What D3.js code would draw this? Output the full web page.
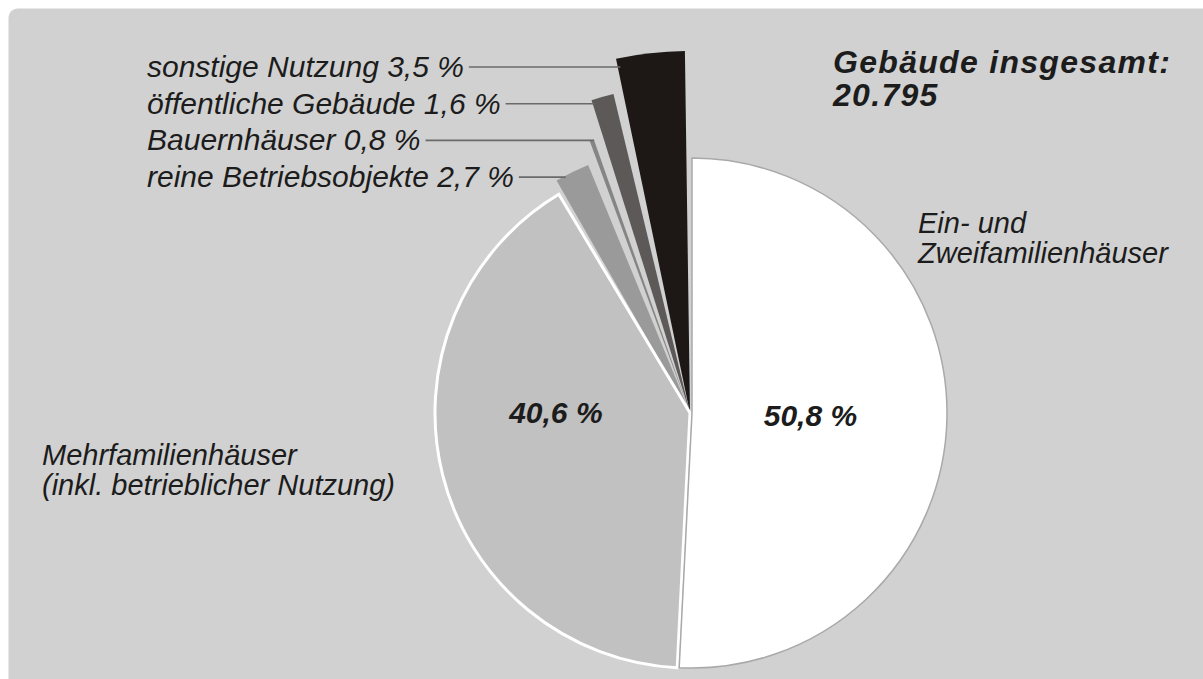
<!DOCTYPE html>
<html><head><meta charset="utf-8">
<script src="https://cdn.jsdelivr.net/npm/d3@7"></script>
<style>html,body{margin:0;padding:0;background:#fff;} svg{display:block;}</style>
</head><body>
<svg id="chart" width="1203" height="679"></svg>
<script>
// ---- data ----
const categories = ["Ein- und Zweifamilienhäuser", "Mehrfamilienhäuser (inkl. betrieblicher Nutzung)", "reine Betriebsobjekte", "Bauernhäuser", "öffentliche Gebäude", "sonstige Nutzung"];
const shares = [50.8, 40.6, 2.7, 0.8, 1.6, 3.5];
const shareLabels = ["50,8 %", "40,6 %", "2,7 %", "0,8 %", "1,6 %", "3,5 %"];
const bigLabelLines = [["Ein- und", "Zweifamilienhäuser"], ["Mehrfamilienhäuser", "(inkl. betrieblicher Nutzung)"]];
const titleLines = ["Gebäude insgesamt:", "20.795"];

// ---- style / layout ----
const W = 1203, H = 679;
const cx = 690, cy = 413, R = 255;
const outerR = [255, 255, 268, 290, 328, 362];
const fills = ["#ffffff", "#c1c1c1", "#9a9a9a", "#858585", "#5d5959", "#1d1816"];
const bg = "#d1d1d1";
const ink = "#1c1c1c";
const font = "'Liberation Sans', Arial, Helvetica, sans-serif";

const svg = d3.select("#chart");
svg.append("rect").attr("x", 8.5).attr("y", 8.5).attr("width", W + 20).attr("height", H + 20)
  .attr("rx", 9).attr("fill", bg);

const pie = d3.pie().sort(null).value(d => d).startAngle(0).endAngle(2 * Math.PI);
const arcs = pie(shares);
const g = svg.append("g").attr("transform", `translate(${cx},${cy})`);

const padA = 0.04;
const arcFor = i => d3.arc().innerRadius(0).outerRadius(outerR[i]);
const smallArc = i => d3.arc().innerRadius(0).outerRadius(outerR[i]).padAngle(padA).padRadius(R);

// small slices
arcs.forEach((a, i) => {
  if (i < 2) return;
  g.append("path").attr("d", smallArc(i)(a)).attr("fill", fills[i]);
});
// Mehrfamilienhäuser
g.append("path").attr("d", arcFor(1)(arcs[1])).attr("fill", fills[1])
  .attr("stroke", "#ffffff").attr("stroke-width", 3).attr("stroke-linejoin", "miter");
// Ein- und Zweifamilienhäuser
g.append("path").attr("transform", "translate(2,0)").attr("d", arcFor(0)(arcs[0])).attr("fill", fills[0])
  .attr("stroke", "#a9a9a9").attr("stroke-width", 1.5);

// percentage labels inside big slices
const inner = [
  d3.arc().innerRadius(R * 0.5).outerRadius(R * 0.5).centroid(arcs[0]),
  d3.arc().innerRadius(R * 0.53).outerRadius(R * 0.53).centroid({startAngle: 1.5 * Math.PI, endAngle: 1.5 * Math.PI})
];
inner.forEach((p, i) => {
  g.append("text").attr("x", p[0] - (i === 0 ? 7 : -1)).attr("y", p[1] + 10)
    .attr("text-anchor", "middle").attr("font-family", font).attr("font-style", "italic")
    .attr("font-weight", "bold").attr("font-size", 30).attr("fill", ink).text(shareLabels[i]);
});

// big labels
const bigPos = [[918, 233, 30, 29], [42, 464.5, 30, 29]];
bigLabelLines.forEach((lines, i) => {
  const t = svg.append("text").attr("font-family", font).attr("font-style", "italic")
    .attr("font-size", bigPos[i][3]).attr("fill", ink);
  lines.forEach((l, j) => t.append("tspan").attr("x", bigPos[i][0]).attr("y", bigPos[i][1] + j * bigPos[i][2]).text(l));
});

// small labels with leader lines (top to bottom: sonstige, öffentliche, Bauern, reine)
const smallIdx = [5, 4, 3, 2];
smallIdx.forEach((i, k) => {
  const y = 77 + k * 36.7;
  const t = svg.append("text").attr("x", 147).attr("y", y).attr("font-family", font)
    .attr("font-style", "italic").attr("font-size", 30).attr("fill", ink)
    .text(categories[i] + " " + shareLabels[i]);
  const x0 = 147 + t.node().getComputedTextLength() + 5;
  const ly = y - 10;
  const off = padA * R / 2;
  const a0 = arcs[i].startAngle, dy = cy - ly;
  const tt = (dy - off * Math.sin(a0)) / Math.cos(a0);
  let x1 = cx + tt * Math.sin(a0) + off * Math.cos(a0);
  const xArc = cx - Math.sqrt(Math.max(0, outerR[i] * outerR[i] - dy * dy));
  if (Math.hypot(x1 - cx, dy) > outerR[i]) x1 = xArc;
  svg.append("line").attr("x1", x0).attr("x2", x1 + 3).attr("y1", ly).attr("y2", ly)
    .attr("stroke", "#6a6a6a").attr("stroke-width", 1.6);
});

// title
const tt = svg.append("text").attr("font-family", font).attr("font-style", "italic")
  .attr("font-weight", "bold").attr("font-size", 32).attr("letter-spacing", 1.3).attr("fill", ink);
titleLines.forEach((l, j) => tt.append("tspan").attr("x", 833).attr("y", 73 + j * 33).text(l));
</script>
</body></html>
